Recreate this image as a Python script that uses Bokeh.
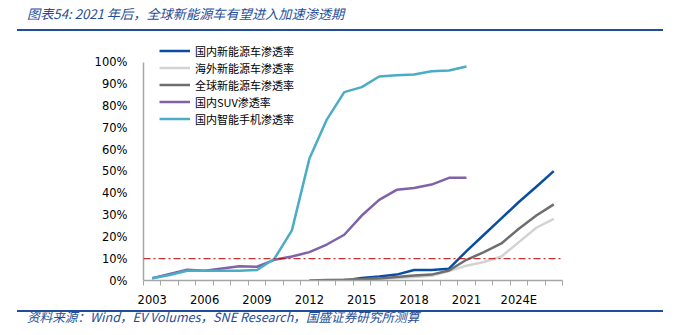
from bokeh.plotting import figure
from bokeh.models import (ColumnDataSource, FixedTicker, Span, Legend, LegendItem, Div)
from bokeh.layouts import column
from bokeh.embed import file_html
from bokeh.resources import INLINE

nan = float("nan")

years = list(range(2003, 2027))
tick_years = [2003, 2006, 2009, 2012, 2015, 2018, 2021, 2024]
tick_labels = ["2003", "2006", "2009", "2012", "2015", "2018", "2021", "2024E"]
y_ticks = list(range(0, 101, 10))
y_labels = [f"{v}%" for v in y_ticks]

# values in %
cn_nev = [nan]*11 + [0.0, 1.2, 1.8, 2.7, 4.8, 4.8, 5.4, 13.5, 21.0, 28.5, 36.0, 43.0, 50.2]
overseas_nev = [nan]*9 + [0.0, 0.1, 0.3, 0.5, 0.8, 1.2, 1.6, 2.2, 4.3, 6.8, 8.5, 11.0, 17.6, 24.2, 28.3]
global_nev = [nan]*9 + [0.0, 0.2, 0.3, 0.6, 0.9, 1.6, 2.3, 2.7, 4.6, 9.5, 13.0, 17.0, 23.7, 29.8, 34.9]
cn_suv = [1.0, 3.0, 4.9, 4.5, 5.5, 6.5, 6.3, 9.5, 11.0, 13.0, 16.5, 21.0, 29.8, 37.0, 41.6, 42.4, 44.0, 47.1, 47.1] + [nan]*5
cn_phone = [1.0, 2.5, 4.5, 4.5, 4.5, 4.5, 4.8, 10.0, 23.0, 55.8, 73.8, 86.4, 88.7, 93.6, 94.2, 94.5, 96.0, 96.3, 98.2] + [nan]*5
threshold = 10

names = ["国内新能源车渗透率", "海外新能源车渗透率", "全球新能源车渗透率", "国内SUV渗透率", "国内智能手机渗透率"]
colors = ["#0A4EA3", "#D3D3D3", "#6E6E6E", "#7F62A8", "#4BACC6"]
series = [cn_nev, overseas_nev, global_nev, cn_suv, cn_phone]

title_text = "图表54: 2021 年后，全球新能源车有望进入加速渗透期"
source_text = "资料来源：Wind，EV Volumes，SNE Research，国盛证券研究所测算"

cjk = "Noto Sans CJK SC"
lab_font = "DejaVu Sans"
blue = "#1F4E9A"

p = figure(width=679, height=273, output_backend="svg", toolbar_location=None,
           x_range=(2002.5, 2026.5), y_range=(0, 110.09),
           min_border_left=143, min_border_right=117, min_border_top=4, min_border_bottom=29)
p.outline_line_color = None
p.grid.grid_line_color = None

# axes
p.xaxis.ticker = FixedTicker(ticks=tick_years, minor_ticks=[y + 0.5 for y in range(2002, 2027)])
p.xaxis.major_label_overrides = {y: l for y, l in zip(tick_years, tick_labels)}
p.xaxis.major_tick_line_color = None
p.xaxis.minor_tick_in = 0
p.xaxis.minor_tick_out = 5
p.xaxis.minor_tick_line_color = "#A6A6A6"
p.xaxis.axis_line_color = "#A6A6A6"
p.xaxis.axis_line_width = 1.5
p.xaxis.major_label_standoff = 6
p.xaxis.major_label_text_font = lab_font
p.xaxis.major_label_text_font_size = "11.5px"
p.xaxis.major_label_text_color = "#000000"

p.yaxis.ticker = FixedTicker(ticks=y_ticks)
p.yaxis.major_label_overrides = {v: l for v, l in zip(y_ticks, y_labels)}
p.yaxis.bounds = (0, 100)
p.yaxis.major_tick_line_color = None
p.yaxis.minor_tick_line_color = None
p.yaxis.axis_line_color = "#A6A6A6"
p.yaxis.axis_line_width = 1.5
p.yaxis.major_label_standoff = 10
p.yaxis.major_label_text_font = lab_font
p.yaxis.major_label_text_font_size = "11.5px"
p.yaxis.major_label_text_color = "#000000"

# 10% reference line
p.add_layout(Span(location=threshold, dimension="width", line_color="#C00000", line_width=1,
                  line_dash="7 3 2 3"))

renderers = []
for vals, c in zip(series, colors):
    src = ColumnDataSource(dict(x=years, y=vals))
    r = p.line("x", "y", source=src, line_color=c, line_width=2.5)
    renderers.append(r)

legend = Legend(items=[LegendItem(label=n, renderers=[r]) for n, r in zip(names, renderers)],
                location=(16, 153), orientation="vertical")
legend.background_fill_alpha = 0
legend.border_line_color = None
legend.padding = 0
legend.margin = 0
legend.spacing = 0
legend.glyph_width = 31
legend.glyph_height = 17
legend.label_height = 17
legend.label_standoff = 5
legend.label_text_font = cjk
legend.label_text_font_size = "11px"
legend.label_text_color = "#000000"
p.add_layout(legend, "center")

head = Div(width=679, height=36, margin=0, text=(
    '<div style="position:relative;width:679px;height:36px;">'
    f'<div style="position:absolute;left:27px;top:5px;line-height:18px;white-space:nowrap;'
    f'font-family:\'{cjk}\';font-style:italic;font-size:13.2px;color:{blue};">{title_text}</div>'
    f'<div style="position:absolute;left:17px;top:29px;width:646px;height:2px;background:{blue};"></div>'
    '</div>'))
foot = Div(width=679, height=26, margin=0, text=(
    '<div style="position:relative;width:679px;height:26px;">'
    f'<div style="position:absolute;left:17px;top:1px;width:646px;height:2px;background:{blue};"></div>'
    f'<div style="position:absolute;left:27px;top:-1px;line-height:18px;white-space:nowrap;'
    f'font-family:\'{cjk}\';font-style:italic;font-size:12.6px;color:{blue};">{source_text}</div>'
    '</div>'))

layout = column(head, p, foot, spacing=0, margin=0)
open("out.html", "w").write(file_html(layout, INLINE))
